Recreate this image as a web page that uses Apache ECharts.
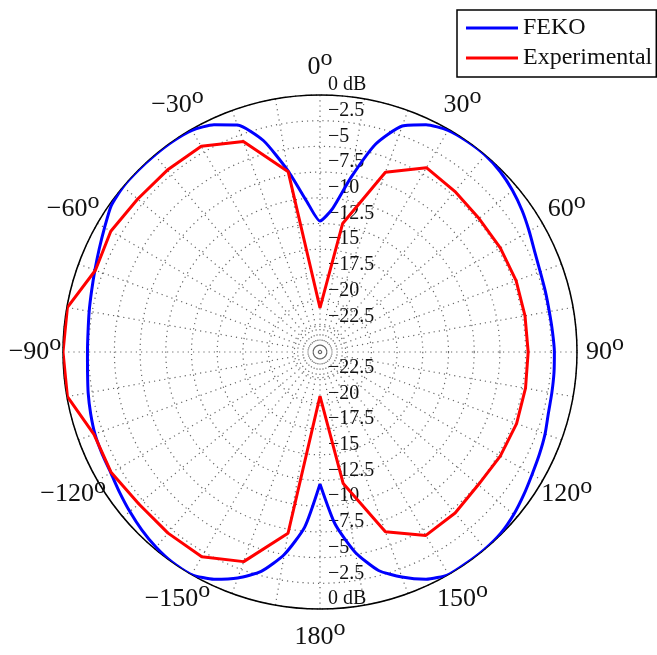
<!DOCTYPE html>
<html>
<head>
<meta charset="utf-8">
<title>Radiation pattern</title>
<script src="https://cdn.jsdelivr.net/npm/echarts@6/dist/echarts.min.js"></script>
<style>
  html, body { margin: 0; padding: 0; background: #fff; }
  #main { width: 657px; height: 655px; }
</style>
</head>
<body>
<div id="main"></div>
<script>
// tick labels
var angleTicks = [-150, -120, -90, -60, -30, 0, 30, 60, 90, 120, 150, 180];
var dbTicks = [-22.5, -20, -17.5, -15, -12.5, -10, -7.5, -5, -2.5, 0];

// FEKO simulation (dB), every 5 deg
var fekoAngles = [-180, -175, -170, -165, -160, -155, -150, -145, -140, -135, -130, -125,
  -120, -115, -110, -105, -100, -95, -90, -85, -80, -75, -70, -65,
  -60, -55, -50, -45, -40, -35, -30, -25, -20, -15, -10, -5,
  0, 5, 10, 15, 20, 25, 30, 35, 40, 45, 50, 55,
  60, 65, 70, 75, 80, 85, 90, 95, 100, 105, 110, 115,
  120, 125, 130, 135, 140, 145, 150, 155, 160, 165, 170, 175, 180];
var fekoDb = [-12.16, -7.9, -5.0, -2.9, -1.6, -0.6, 0, 0, -0.2, -0.5, -0.85, -1.2,
  -1.5, -1.6, -1.7, -1.9, -2.1, -2.3, -2.38, -2.35, -2.2, -2.0, -1.7, -1.3,
  -0.8, -0.2, 0, 0, 0, 0, -0.1, -0.6, -1.5, -3.7, -7.1, -10.3,
  -12.26, -11.0, -7.8, -4.05, -1.6, -0.6, -0.1, 0, 0, -0.2, -0.55, -1.0,
  -1.5, -1.95, -2.2, -2.3, -2.35, -2.3, -2.2, -2.15, -2.1, -2.0, -1.7, -1.45,
  -1.18, -0.8, -0.4, -0.1, 0, 0, 0, -0.6, -1.7, -3.0, -5.2, -8.2, -12.16];

// measured pattern (dB), every 10 deg
var expAngles = [-180, -170, -160, -150, -140, -130, -120, -110, -100, -90, -80, -70,
  -60, -50, -40, -30, -20, -10, 0, 10, 20, 30, 40, 50,
  60, 70, 80, 90, 100, 110, 120, 130, 140, 150, 160, 170, 180];
var expDb = [-20.7, -7.1, -3.3, -2.0, -2.0, -2.0, -1.55, -1.6, -0.05, 0, -0.05, -1.75,
  -1.5, -1.85, -1.9, -1.9, -3.2, -7.2, -20.7, -12.3, -6.4, -4.3, -4.6, -4.8,
  -4.75, -4.7, -4.75, -4.75, -4.7, -4.65, -4.75, -4.9, -4.55, -4.4, -6.4, -12.0, -20.7];

var serif = 'Liberation Serif';
var dotted = { color: '#666', width: 1.2, type: [1.2, 4] };
var labelGap = 28; // angle labels are centred this far outside the rim

function minus(v) {
  return String(v).replace('-', '\u2212');
}

function dbLabel(v) {
  if (dbTicks.indexOf(v) < 0) return '';
  return v === 0 ? '0 dB' : minus(v);
}

// angle tick labels, centred on a ring outside the plot (like MATLAB polar)
var angleLabelData = angleTicks.map(function (a) {
  var rad = a * Math.PI / 180;
  return {
    value: [0, a],
    label: { offset: [labelGap * Math.sin(rad), -labelGap * Math.cos(rad)] }
  };
});

var chart = echarts.init(document.getElementById('main'));

var option = {
  animation: false,
  legend: {
    left: 457,
    top: 10,
    orient: 'vertical',
    data: ['FEKO', 'Experimental'],
    icon: 'rect',
    itemWidth: 52,
    itemHeight: 3,
    itemGap: 0,
    padding: [3, 4, 4, 9],
    borderColor: '#000',
    borderWidth: 1.5,
    backgroundColor: '#fff',
    textStyle: { fontFamily: serif, fontSize: 24, color: '#111', lineHeight: 30 }
  },
  polar: [
    { center: [320, 352], radius: 257 },
    { center: [320, 352], radius: 257 }
  ],
  angleAxis: [
    {
      polarIndex: 0,
      type: 'value',
      min: -180,
      max: 180,
      interval: 30,
      startAngle: -90,
      clockwise: true,
      axisLine: { lineStyle: { color: '#000', width: 1.5 } },
      axisTick: { show: false },
      splitLine: { show: false },
      axisLabel: { show: false }
    },
    {
      polarIndex: 1,
      type: 'value',
      min: 0,
      max: 360,
      interval: 10,
      startAngle: 90,
      clockwise: true,
      axisLine: { show: false },
      axisTick: { show: false },
      axisLabel: { show: false },
      splitLine: { lineStyle: dotted }
    }
  ],
  radiusAxis: [
    {
      polarIndex: 0,
      type: 'value',
      min: -25,
      max: 0,
      interval: 2.5,
      axisLine: { show: false },
      axisTick: { show: false },
      splitLine: { lineStyle: dotted },
      axisLabel: {
        margin: 8,
        align: 'left',
        verticalAlign: 'bottom',
        fontFamily: serif,
        fontSize: 20,
        color: '#111',
        formatter: dbLabel
      }
    },
    {
      polarIndex: 1,
      type: 'value',
      min: -25,
      max: 0,
      interval: 2.5,
      axisLine: { show: false },
      axisTick: { show: false },
      splitLine: { show: false },
      axisLabel: {
        margin: -8,
        align: 'left',
        verticalAlign: 'bottom',
        fontFamily: serif,
        fontSize: 20,
        color: '#111',
        formatter: dbLabel
      }
    }
  ],
  series: [
    {
      name: 'FEKO',
      type: 'line',
      coordinateSystem: 'polar',
      polarIndex: 0,
      symbol: 'none',
      smooth: 0.2,
      data: fekoAngles.map(function (a, i) { return [fekoDb[i], a]; }),
      lineStyle: { color: '#0000ff', width: 3 },
      itemStyle: { color: '#0000ff' }
    },
    {
      name: 'Experimental',
      type: 'line',
      coordinateSystem: 'polar',
      polarIndex: 0,
      symbol: 'none',
      data: expAngles.map(function (a, i) { return [expDb[i], a]; }),
      lineStyle: { color: '#ff0000', width: 3 },
      itemStyle: { color: '#ff0000' }
    },
    {
      name: 'angleLabels',
      type: 'scatter',
      coordinateSystem: 'polar',
      polarIndex: 0,
      silent: true,
      symbolSize: 0,
      itemStyle: { opacity: 1, color: '#111' },
      data: angleLabelData,
      label: {
        show: true,
        position: 'inside',
        align: 'center',
        verticalAlign: 'middle',
        color: '#111',
        textBorderWidth: 0,
        formatter: function (p) {
          return '{n|' + minus(p.value[1]) + '}{s|o}';
        },
        rich: {
          n: { fontFamily: serif, fontSize: 26, height: 28, lineHeight: 28, color: '#111' },
          s: { fontFamily: serif, fontSize: 24, height: 12, lineHeight: 12, verticalAlign: 'top', color: '#111' }
        }
      }
    }
  ]
};

chart.setOption(option);
</script>
</body>
</html>
